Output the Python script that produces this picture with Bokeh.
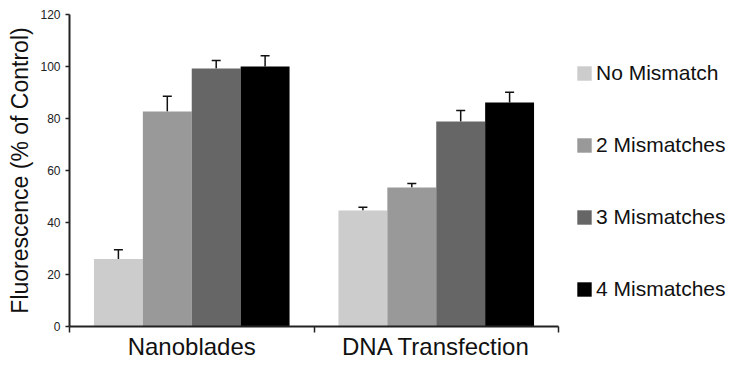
import numpy as np
from bokeh.plotting import figure
from bokeh.models import (ColumnDataSource, Whisker, TeeHead, FixedTicker,
                          Legend, LegendItem, Range1d)
from bokeh.embed import file_html
from bokeh.resources import INLINE

categories = ["Nanoblades", "DNA Transfection"]
series = ["No Mismatch", "2 Mismatches", "3 Mismatches", "4 Mismatches"]
colors = ["#cccccc", "#999999", "#666666", "#000000"]
no_mismatch = [26.0, 44.6]
two_mismatches = [82.7, 53.5]
three_mismatches = [99.2, 78.8]
four_mismatches = [100.0, 86.2]
no_mismatch_err = [3.5, 1.3]
two_mismatches_err = [5.9, 1.5]
three_mismatches_err = [3.1, 4.3]
four_mismatches_err = [4.1, 3.9]
y_ticks = [0, 20, 40, 60, 80, 100, 120]

values = [no_mismatch, two_mismatches, three_mismatches, four_mismatches]
errors = [no_mismatch_err, two_mismatches_err, three_mismatches_err, four_mismatches_err]

FONT = "Liberation Sans"
ncat = len(categories)
# frame spans to the right edge so the legend sits inside it; the axis stops at ncat
x_end = ncat * (729 - 69) / (558 - 69)

p = figure(width=729, height=365, output_backend="svg", toolbar_location=None,
           x_range=Range1d(0, x_end), y_range=Range1d(0, 120),
           min_border_left=69, min_border_right=0, min_border_top=14,
           min_border_bottom=39)
p.outline_line_color = None
p.xgrid.visible = False
p.ygrid.visible = False

n = len(series)
bw = 0.8 / n
renderers = []
for k in range(n):
    xs = np.arange(ncat) + 0.1 + bw * k + bw / 2
    top = np.array(values[k])
    err = np.array(errors[k])
    src = ColumnDataSource(dict(x=xs, top=top, up=top + err))
    r = p.vbar(x="x", top="top", bottom=0, width=bw, source=src,
               fill_color=colors[k], line_color=None)
    renderers.append(r)
    w = Whisker(base="x", lower="top", upper="up", source=src,
                line_color="#111111", line_width=1.5,
                upper_head=TeeHead(size=9, line_color="#111111", line_width=1.5),
                lower_head=None)
    p.add_layout(w)

# x axis: category labels at centres, tick marks at boundaries
centres = [i + 0.5 for i in range(ncat)]
p.xaxis.ticker = FixedTicker(ticks=centres, minor_ticks=list(range(ncat + 1)))
p.xaxis.bounds = (0, ncat)
p.xaxis.major_label_overrides = {c: name for c, name in zip(centres, categories)}
p.xaxis.major_label_text_font = FONT
p.xaxis.major_label_text_font_size = "24px"
p.xaxis.major_label_text_color = "#111111"
p.xaxis.major_label_standoff = 0
p.xaxis.major_tick_out = 0
p.xaxis.major_tick_in = 0
p.xaxis.minor_tick_out = 6
p.xaxis.minor_tick_in = 0
p.xaxis.minor_tick_line_color = "#222222"
p.xaxis.minor_tick_line_width = 1.5
p.xaxis.axis_line_color = "#222222"
p.xaxis.axis_line_width = 2

p.yaxis.ticker = FixedTicker(ticks=y_ticks)
p.yaxis.major_tick_out = 4
p.yaxis.major_tick_in = 0
p.yaxis.minor_tick_line_color = None
p.yaxis.major_tick_line_color = "#222222"
p.yaxis.major_tick_line_width = 1.5
p.yaxis.axis_line_color = "#222222"
p.yaxis.axis_line_width = 2
p.yaxis.major_label_text_font = FONT
p.yaxis.major_label_text_font_size = "12px"
p.yaxis.major_label_text_color = "#222222"
p.yaxis.major_label_standoff = 5
p.yaxis.axis_label = "Fluorescence (% of Control)"
p.yaxis.axis_label_text_font = FONT
p.yaxis.axis_label_text_font_size = "23px"
p.yaxis.axis_label_text_font_style = "normal"
p.yaxis.axis_label_text_color = "#111111"
p.yaxis.axis_label_standoff = 4

legend = Legend(items=[LegendItem(label=s, renderers=[r]) for s, r in zip(series, renderers)],
                location=(506, 25), orientation="vertical",
                glyph_width=18, glyph_height=18, label_height=24, spacing=48,
                label_standoff=3, padding=0, margin=0,
                border_line_color=None, background_fill_alpha=0,
                label_text_font=FONT, label_text_font_size="21px",
                label_text_color="#111111")
p.add_layout(legend, "center")

open("out.html", "w").write(file_html(p, INLINE))
